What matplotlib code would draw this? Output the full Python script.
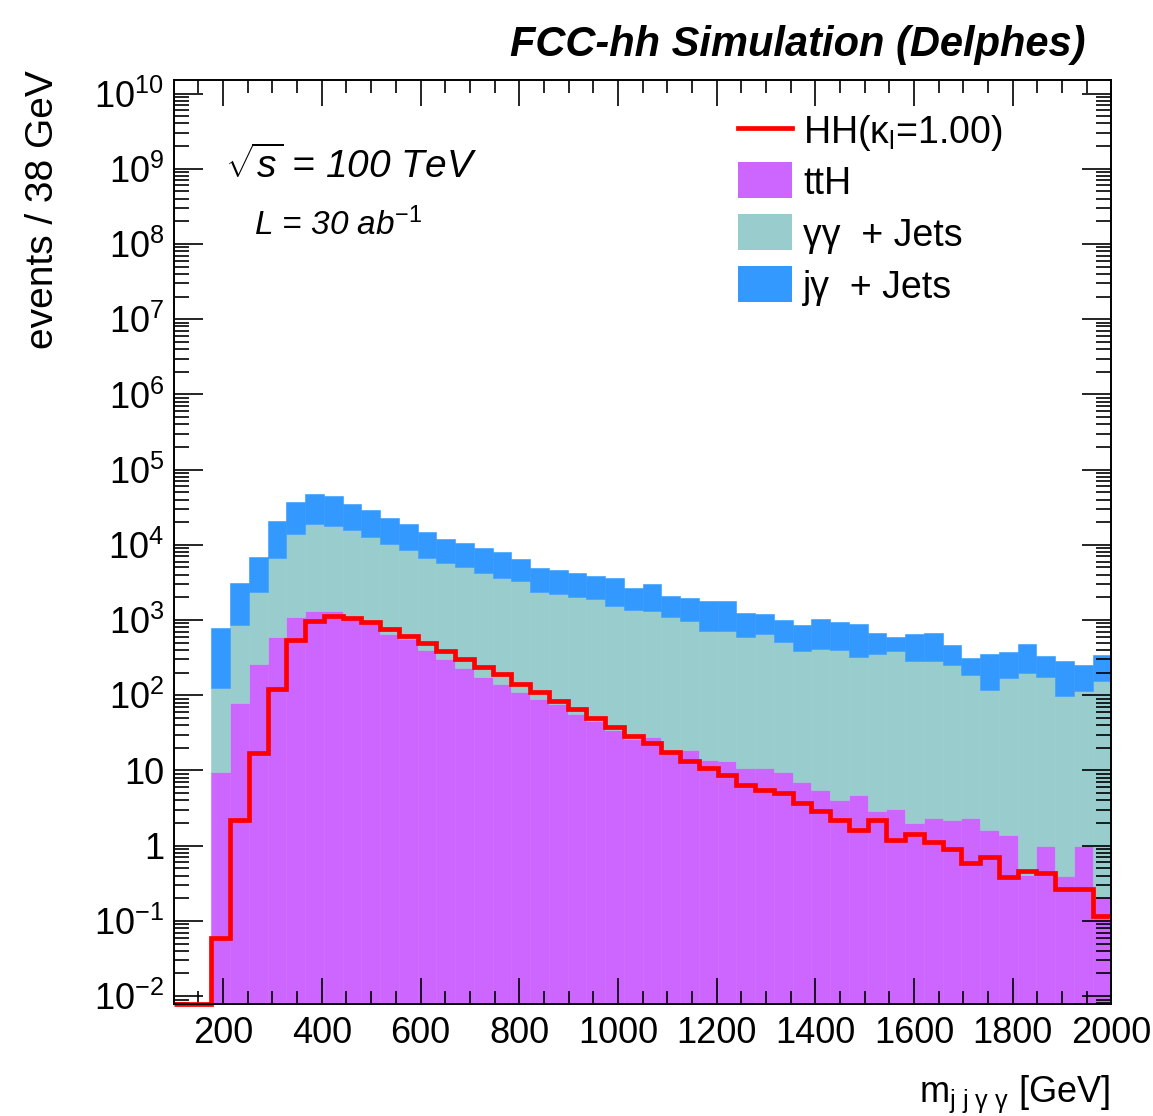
"""
Stacked m_jjgg background histogram (ttH, gg+jets, jg+jets) with the
HH signal overlaid as a red step line, FCC-hh Delphes simulation, 30 ab^-1.
"""
import numpy as np
import matplotlib
matplotlib.use("Agg")
import matplotlib.pyplot as plt
from matplotlib.patches import Rectangle
from matplotlib.lines import Line2D
from matplotlib.ticker import FixedLocator, FixedFormatter, LogLocator, MultipleLocator

plt.rcParams["font.family"] = ["Liberation Sans", "DejaVu Sans"]
plt.rcParams["mathtext.fontset"] = "custom"
plt.rcParams["mathtext.rm"] = "Liberation Sans"
plt.rcParams["mathtext.it"] = "Liberation Sans:italic"
plt.rcParams["mathtext.bf"] = "Liberation Sans:bold"

# 50 bins of 38 GeV from 100 to 2000 GeV
BIN_LO, BIN_W, N_BINS = 100, 38, 50

# events / bin per sample (first two bins are empty)
tth = [0, 0,
       9.5, 79, 262, 598, 1090, 1330, 1300, 1080, 900, 656, 555, 400,
       302, 229, 174, 141, 112, 90, 76, 56, 46, 35, 26, 28,
       19, 18.8, 13.8, 13.5, 10.8, 10.8, 9.5, 7.0, 5.5, 4.1, 4.7, 2.9,
       3.1, 2.0, 2.3, 2.2, 2.3, 1.6, 1.4, 0.41, 1.0, 0.40, 1.0, 0.21]
gg_jets = [0, 0,
           116, 784, 2090, 6110, 12900, 17700, 16600, 14700, 11900, 9640, 8040, 6310,
           5460, 4870, 4080, 3470, 3240, 2280, 2150, 1980, 1870, 1480, 1340, 1300,
           1090, 956, 704, 705, 587, 645, 509, 382, 405, 398, 316, 352,
           390, 285, 285, 249, 181, 115, 169, 197, 176, 96, 114, 155]
jg_jets = [0, 0,
           669, 2240, 4510, 14100, 23300, 28200, 26500, 19300, 16700, 12800, 10400, 8290,
           6040, 5400, 4790, 4390, 3230, 2580, 2380, 2160, 1920, 2060, 1340, 1670,
           990, 995, 1060, 1060, 662, 564, 479, 467, 620, 553, 577, 327,
           211, 374, 383, 213, 134, 241, 204, 281, 153, 185, 136, 186]
hh_signal = [0, 0,
             0.059, 2.18, 17, 122, 541, 975, 1140, 1070, 937, 757, 622, 493,
             393, 305, 236, 193, 141, 111, 83.5, 65.4, 50, 37.7, 28.9, 23.5,
             17.5, 13.3, 10.8, 8.74, 6.44, 5.52, 5.04, 3.67, 2.9, 2.18, 1.61, 2.2,
             1.19, 1.41, 1.11, 0.91, 0.585, 0.70, 0.385, 0.467, 0.44, 0.267, 0.267, 0.117]

COL_TTH = "#cc66ff"
COL_GG = "#99cccc"
COL_JG = "#3399ff"
COL_HH = "#ff0000"

Y_LO, Y_HI = 10 ** -2.104, 10 ** 10.18

edges = BIN_LO + BIN_W * np.arange(N_BINS + 1)
centers = edges[:-1] + BIN_W / 2
tth = np.array(tth)
gg_jets = np.array(gg_jets)
jg_jets = np.array(jg_jets)
hh_signal = np.array(hh_signal)

fig = plt.figure(figsize=(11.53, 11.16), dpi=100)
ax = fig.add_axes([0.1507, 0.1004, 0.8133, 0.8279])
ax.set_yscale("log")

# stacked backgrounds
bar_kw = dict(width=BIN_W, align="center", linewidth=0.4)
ax.bar(centers, tth, color=COL_TTH, edgecolor=COL_TTH, **bar_kw)
ax.bar(centers, gg_jets, bottom=tth, color=COL_GG, edgecolor=COL_GG, **bar_kw)
ax.bar(centers, jg_jets, bottom=tth + gg_jets, color=COL_JG, edgecolor=COL_JG, **bar_kw)

# signal: empty bins sit on the bottom of the frame
hh_draw = np.where(hh_signal > 0, hh_signal, Y_LO)
ax.stairs(hh_draw, edges, baseline=None, color=COL_HH, linewidth=3.4,
          clip_on=False, zorder=3)

ax.set_xlim(100, 2000)
ax.set_ylim(Y_LO, Y_HI)

# ticks on all four sides, pointing in
ax.xaxis.set_major_locator(MultipleLocator(200))
ax.xaxis.set_minor_locator(MultipleLocator(50))
decades = np.arange(-2, 11)
ylabels = []
for d in decades:
    if d == 0:
        ylabels.append("1")
    elif d == 1:
        ylabels.append("10")
    else:
        ylabels.append(r"$10^{%d}$" % d)
ax.yaxis.set_major_locator(FixedLocator(10.0 ** decades))
ax.yaxis.set_major_formatter(FixedFormatter(ylabels))
ax.yaxis.set_minor_locator(LogLocator(base=10, subs=np.arange(2, 10), numticks=100))
ax.yaxis.set_minor_formatter(FixedFormatter([]))

ax.tick_params(which="both", direction="in", top=True, right=True,
               width=1.2, color="black", labelsize=26)
ax.tick_params(axis="x", which="major", length=19, pad=9)
ax.tick_params(axis="x", which="minor", length=9.5)
ax.tick_params(axis="y", which="major", length=21, pad=7)
ax.tick_params(axis="y", which="minor", length=10.5)
for sp in ax.spines.values():
    sp.set_linewidth(1.4)
    sp.set_zorder(4)

W, H = 1153.0, 1116.0


def fx(px):
    return px / W


def fy(py):
    return 1 - py / H


# titles and labels
fig.text(fx(1085), fy(56), "FCC-hh Simulation (Delphes)", ha="right", va="baseline",
         fontsize=30, fontweight="bold", fontstyle="italic")
fig.text(fx(1110), fy(1102), r"m$_{\mathrm{j\ j\ \gamma\ \gamma}}$ [GeV]",
         ha="right", va="baseline", fontsize=26)
fig.text(fx(43), fy(70), "events / 38 GeV", rotation=90, ha="center", va="top",
         fontsize=28)

fig.text(fx(225), fy(178), r"$\sqrt{s}$ = 100 TeV", ha="left", va="baseline",
         fontsize=28, fontstyle="italic")
fig.text(fx(254), fy(235), r"L = 30 ab$^{\mathit{-1}}$", ha="left", va="baseline",
         fontsize=24, fontstyle="italic")

# legend, drawn as boxes + labels in figure pixels
legend_rows = [
    ("line", COL_HH, r"HH(κ$_{\mathrm{l}}$=1.00)"),
    ("box", COL_TTH, "ttH"),
    ("box", COL_GG, "γγ  + Jets"),
    ("box", COL_JG, "jγ  + Jets"),
]
row_y = [128, 180, 232, 284]
for (kind, col, label), yc in zip(legend_rows, row_y):
    if kind == "line":
        fig.add_artist(Line2D([fx(738), fx(792)], [fy(yc), fy(yc)], color=col,
                              linewidth=3.4, transform=fig.transFigure))
    else:
        fig.add_artist(Rectangle((fx(738), fy(yc + 18)), fx(54), 36 / H,
                                 facecolor=col, edgecolor="none",
                                 transform=fig.transFigure))
    fig.text(fx(803), fy(yc), label, ha="left", va="center_baseline", fontsize=27)

fig.savefig("out.png", dpi=100)
